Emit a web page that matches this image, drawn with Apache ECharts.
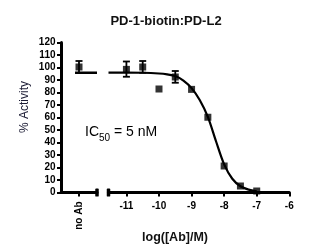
<!DOCTYPE html>
<html><head><meta charset="utf-8">
<script src="https://cdn.jsdelivr.net/npm/echarts@6/dist/echarts.min.js"></script>
<style>html,body{margin:0;padding:0;background:#fff}#c{width:332px;height:248px}</style>
</head><body><div id="c"></div>
<script>
// ---- data ----
const chartTitle = 'PD-1-biotin:PD-L2';
const yName = '% Activity';
const xName = 'log([Ab]/M)';
const noAbLabel = 'no Ab';
const xTickValues = [-11, -10, -9, -8, -7, -6];
// "no Ab" control (left panel, x position 0.5 of the small panel)
const noAbX = [0.5];
const noAbY = [100.4];
const noAbLow = [95.6];
const noAbHigh = [105.2];
// dose-response points
const logConc = [-11, -10.5, -10, -9.5, -9, -8.5, -8, -7.5, -7];
const activity = [98.5, 100.4, 82.8, 92.4, 82.5, 60.2, 21.2, 5.2, 1.2];
// visible error bars
const errX = [-11, -10.5, -9.5];
const errLow = [92.6, 95.8, 87.8];
const errHigh = [104.8, 105.2, 97.2];
// fitted curve
const fitX = [-11.55, -11, -10.5, -10, -9.75, -9.5, -9.25, -9, -8.75, -8.5, -8.25, -8, -7.75, -7.5, -7.25, -7];
const fitY = [95.9, 95.9, 95.8, 95.2, 94.5, 93.2, 89.5, 83.5, 74, 60.5, 41, 22.5, 11, 5, 2.3, 1];
// plateau line in the "no Ab" panel
const plateauX = [0.39, 1];
const plateauY = [95.8, 95.8];

const FONT = 'Liberation Sans, Arial, sans-serif';
const chart = echarts.init(document.getElementById('c'));

function errRender(params, api) {
  const x = api.value(0), lo = api.value(1), hi = api.value(2);
  const a = api.coord([x, lo]), b = api.coord([x, hi]);
  const w = 3.5;
  const st = {stroke: '#000', lineWidth: 1.8};
  return {type: 'group', children: [
    {type: 'line', shape: {x1: a[0], y1: a[1], x2: b[0], y2: b[1]}, style: st},
    {type: 'line', shape: {x1: b[0] - w, y1: b[1], x2: b[0] + w, y2: b[1]}, style: st},
    {type: 'line', shape: {x1: a[0] - w, y1: a[1], x2: a[0] + w, y2: a[1]}, style: st}
  ]};
}

const axisLine = {show: true, lineStyle: {color: '#000', width: 3}};
const tick = {show: true, length: 4, lineStyle: {color: '#000', width: 2}};
const lbl = {color: '#000', fontFamily: FONT, fontWeight: 'bold', fontSize: 10};

const option = {
  animation: false,
  backgroundColor: '#fff',
  title: {text: chartTitle, left: 'center', top: 10,
    textStyle: {fontFamily: FONT, fontWeight: 'bold', fontSize: 13, color: '#111'}},
  grid: [
    {left: 61, width: 36, top: 42.5, bottom: 55.5},
    {left: 108.5, right: 42.7, top: 42.5, bottom: 55.5}
  ],
  xAxis: [
    {gridIndex: 0, type: 'value', min: 0, max: 1,
      axisLine: Object.assign({}, axisLine, {symbol: ['none', 'roundRect'], symbolSize: [8, 3.5]}),
      axisTick: Object.assign({}, tick, {customValues: noAbX}),
      axisLabel: Object.assign({}, lbl, {customValues: noAbX, rotate: 90, margin: 9, formatter: () => noAbLabel}),
      splitLine: {show: false}},
    {gridIndex: 1, type: 'value', min: -11.55, max: -6,
      axisLine: Object.assign({}, axisLine, {symbol: ['roundRect', 'none'], symbolSize: [8, 3.5]}),
      axisTick: Object.assign({}, tick, {customValues: xTickValues}),
      axisLabel: Object.assign({}, lbl, {customValues: xTickValues, margin: 9}),
      splitLine: {show: false}}
  ],
  yAxis: [
    {gridIndex: 0, type: 'value', min: 0, max: 120, interval: 10,
      name: yName, nameLocation: 'middle', nameGap: 30,
      nameTextStyle: {fontFamily: FONT, fontSize: 12, color: '#1a1a33', padding: [0, 0, 0, 21]},
      axisLine: axisLine, axisTick: tick,
      axisLabel: Object.assign({}, lbl, {margin: 5.5}),
      splitLine: {show: false}},
    {gridIndex: 1, type: 'value', min: 0, max: 120, show: false, splitLine: {show: false}}
  ],
  graphic: [
    {type: 'text', left: 85, top: 125, style: {
      rich: {
        m: {fontFamily: FONT, fontSize: 14, lineHeight: 18, verticalAlign: 'top', fill: '#000'},
        s: {fontFamily: FONT, fontSize: 10, lineHeight: 10, verticalAlign: 'bottom', fill: '#000'}
      },
      text: '{m|IC}{s|50}{m| = 5 nM}'
    }},
    {type: 'text', x: 175, y: 238, style: {text: xName, fontFamily: FONT, fontWeight: 'bold',
      fontSize: 12.5, fill: '#111', align: 'center', verticalAlign: 'middle'}}
  ],
  series: [
    {type: 'line', xAxisIndex: 0, yAxisIndex: 0, data: plateauX.map((x, i) => [x, plateauY[i]]),
      showSymbol: false, lineStyle: {color: '#000', width: 2.5}, z: 2},
    {type: 'custom', xAxisIndex: 0, yAxisIndex: 0, renderItem: errRender,
      data: noAbX.map((x, i) => [x, noAbLow[i], noAbHigh[i]]), encode: {x: 0, y: [1, 2]}, z: 3},
    {type: 'scatter', xAxisIndex: 0, yAxisIndex: 0, data: noAbX.map((x, i) => [x, noAbY[i]]),
      symbol: 'rect', symbolSize: 7, itemStyle: {color: '#000'}, z: 4},
    {type: 'line', xAxisIndex: 1, yAxisIndex: 1, data: fitX.map((x, i) => [x, fitY[i]]),
      smooth: 0.3, showSymbol: false, lineStyle: {color: '#000', width: 2.2}, z: 2},
    {type: 'custom', xAxisIndex: 1, yAxisIndex: 1, renderItem: errRender,
      data: errX.map((x, i) => [x, errLow[i], errHigh[i]]), encode: {x: 0, y: [1, 2]}, z: 3},
    {type: 'scatter', xAxisIndex: 1, yAxisIndex: 1, data: logConc.map((x, i) => [x, activity[i]]),
      symbol: 'rect', symbolSize: 7, itemStyle: {color: '#000'}, z: 4}
  ]
};
chart.setOption(option);
</script></body></html>
